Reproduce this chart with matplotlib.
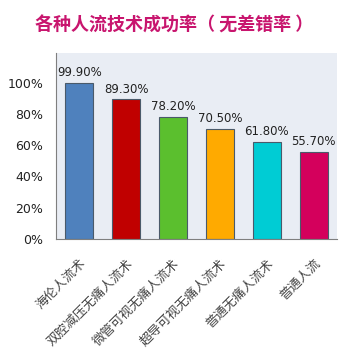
import numpy as np
import matplotlib.pyplot as plt
from matplotlib.ticker import PercentFormatter

plt.rcParams['font.family'] = ['Noto Sans CJK SC', 'DejaVu Sans']

# Data.
categories = ['海伦人流术', '双腔减压无痛人流术', '微管可视无痛人流术',
              '超导可视无痛人流术', '普通无痛人流术', '普通人流']
rates = [99.9, 89.3, 78.2, 70.5, 61.8, 55.7]
labels = ['99.90%', '89.30%', '78.20%', '70.50%', '61.80%', '55.70%']
colors = ['#4F81BD', '#C00000', '#5BBF2E', '#FFAA00', '#00CCD4', '#D4005C']

fig = plt.figure(figsize=(3.64, 3.54), dpi=100)
ax = fig.add_axes([56/364, 1 - 239/354, 281/364, 186/354])
ax.set_facecolor('#E9EDF4')

x = np.arange(len(categories))
ax.bar(x, rates, width=0.6, color=colors, edgecolor='#4A5A6A', linewidth=0.8, zorder=2)
for xi, r, lab in zip(x, rates, labels):
    ax.text(xi, r + 2.5, lab, ha='center', va='bottom', fontsize=8.5, color='#222222',
            family='DejaVu Sans')

ax.set_xlim(-0.5, len(categories) - 0.5)
ax.set_ylim(0, 119)
ax.set_yticks(np.arange(0, 101, 20))
ax.yaxis.set_major_formatter(PercentFormatter(decimals=0))
ax.tick_params(axis='y', length=0, pad=9, labelsize=9, labelcolor='#222222')
for t in ax.get_yticklabels():
    t.set_family('DejaVu Sans')
ax.set_xticks(x)
ax.set_xticklabels(categories, rotation=45, ha='right', va='top', rotation_mode='anchor',
                   fontsize=9.3, color='#444444')
ax.tick_params(axis='x', length=0, pad=13)

for s in ['top', 'right']:
    ax.spines[s].set_visible(False)
ax.spines['left'].set_color('#7F7F7F')
ax.spines['bottom'].set_color('#7F7F7F')

fig.text(174/364, 1 - 25/354, '各种人流技术成功率（ 无差错率 ）', ha='center', va='center',
         fontsize=13, fontweight='bold', color='#C8156E')

fig.savefig('out.png', dpi=100, facecolor='white')
